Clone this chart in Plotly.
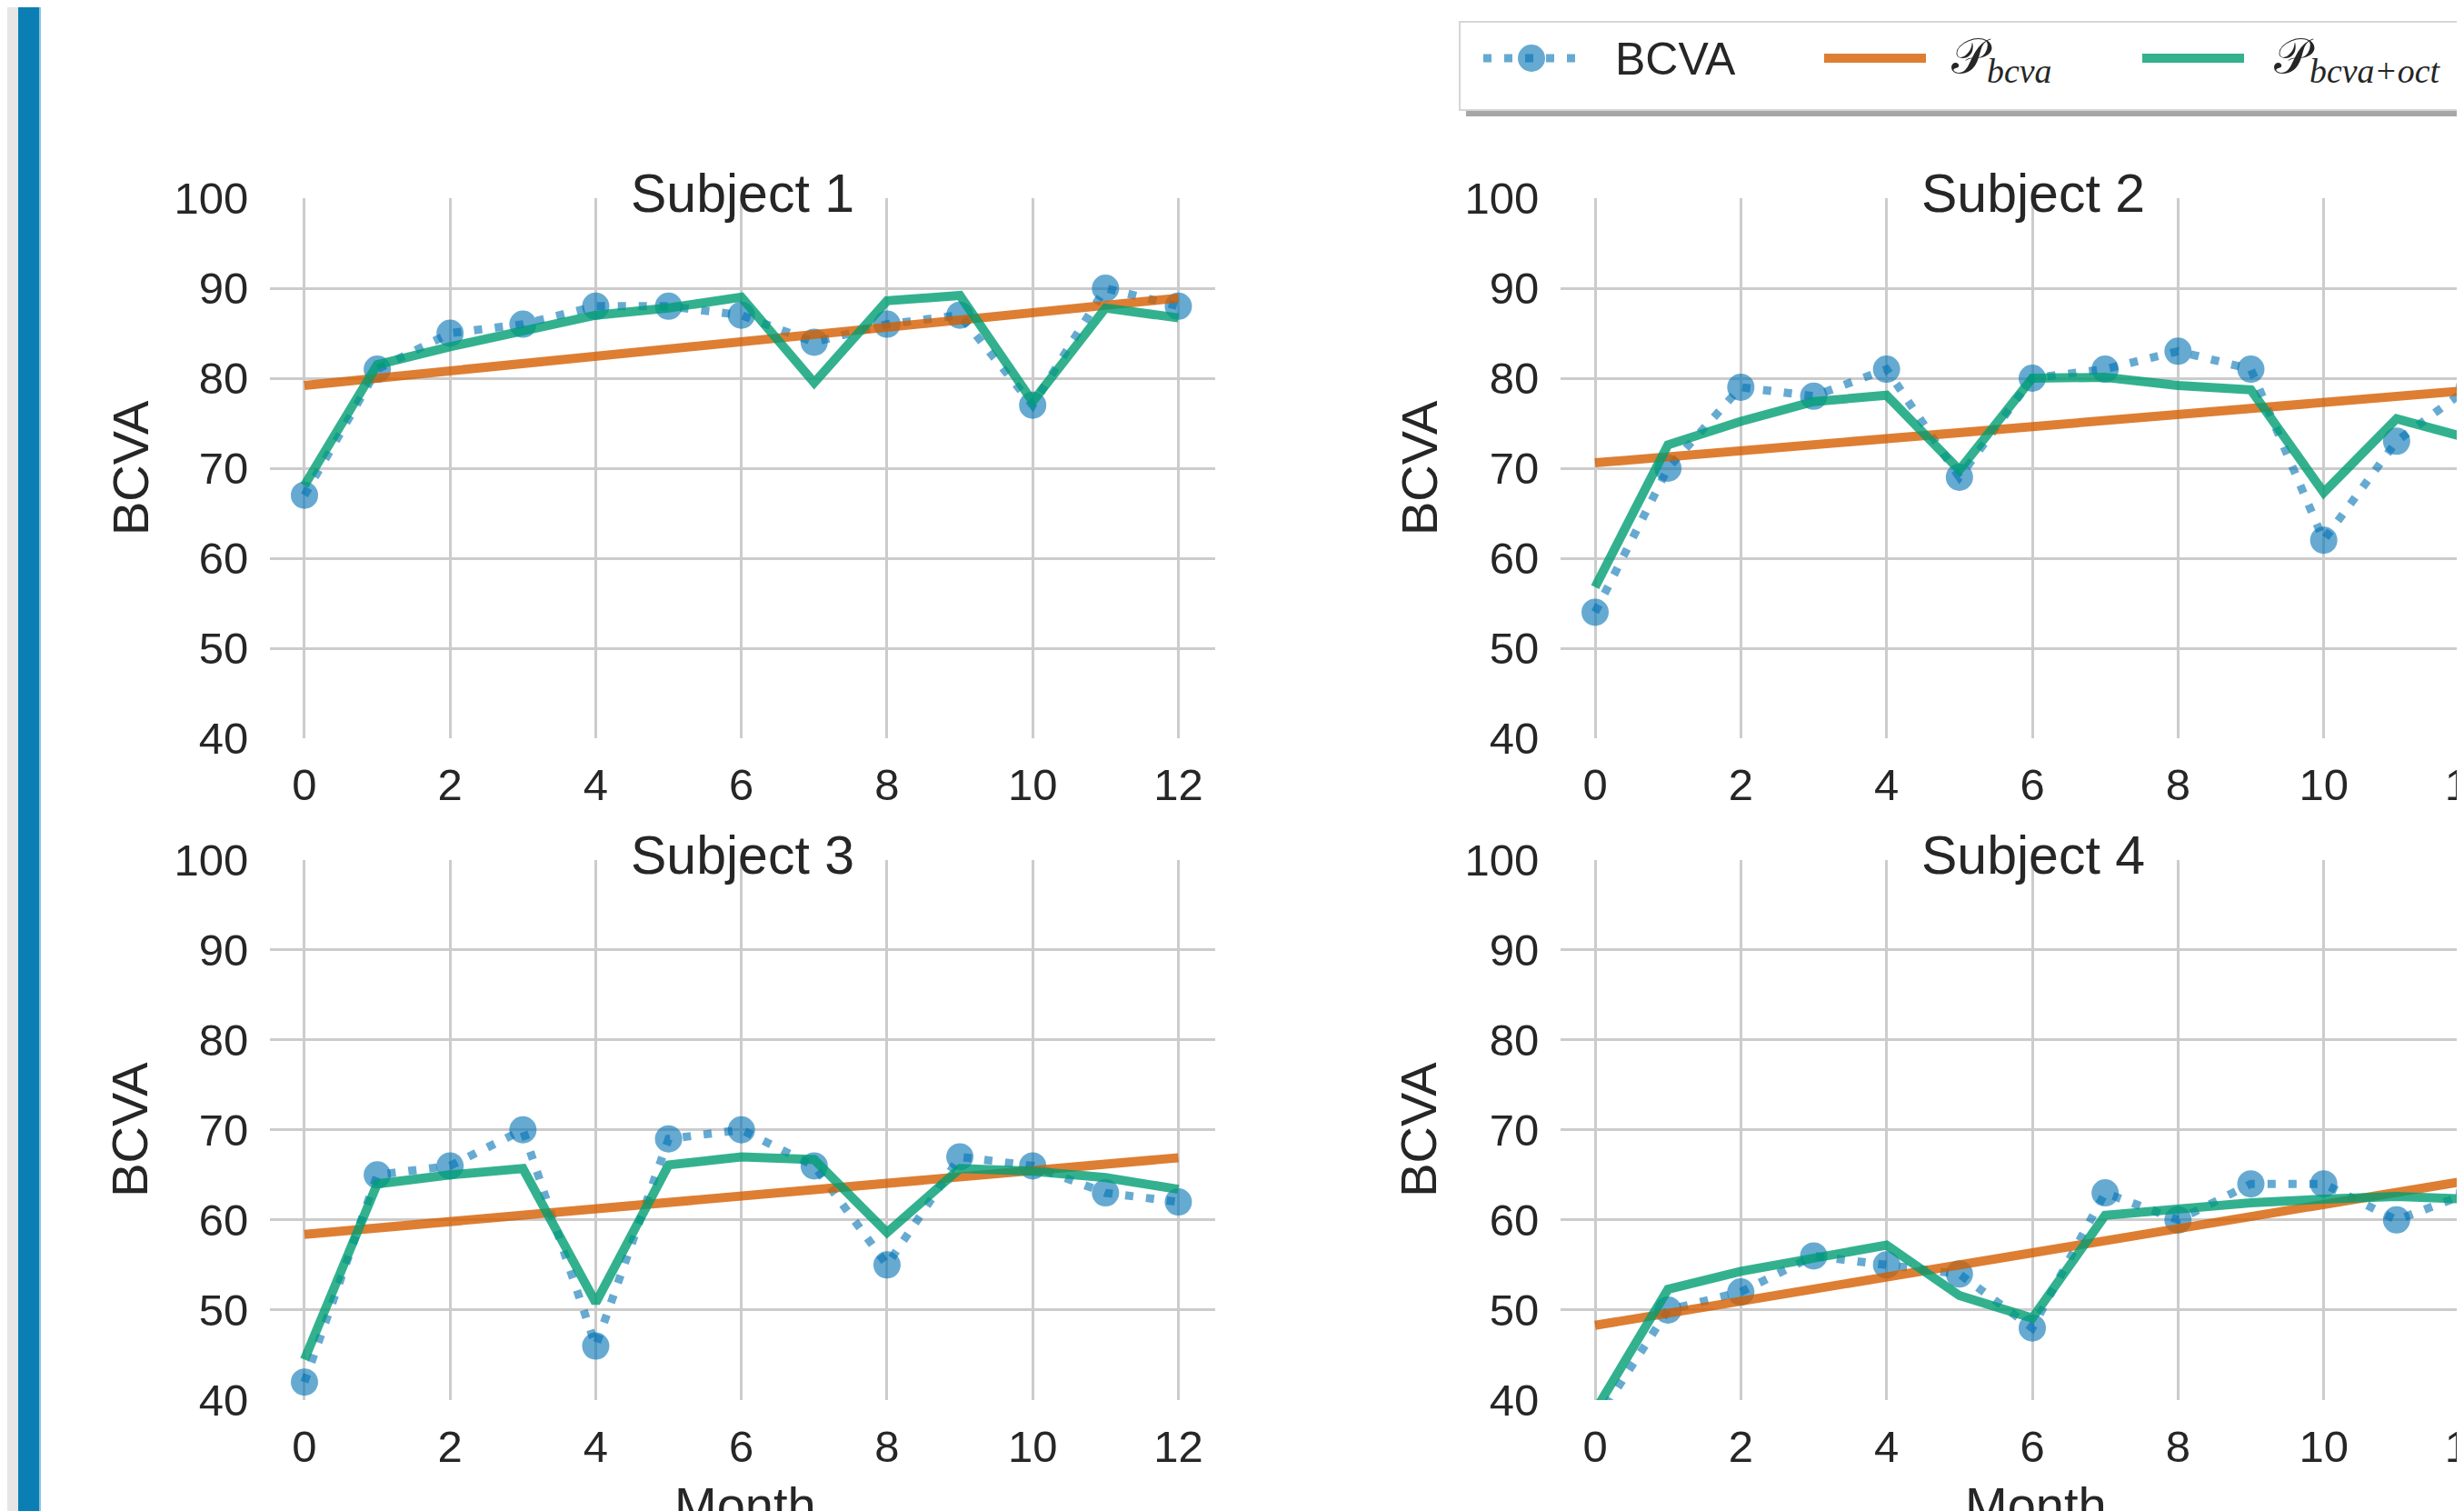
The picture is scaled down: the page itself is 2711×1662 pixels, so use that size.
import plotly.graph_objects as go

W, H = 2711, 1662
OX, OY = 8, 8  # page body margin compensation

months = list(range(13))
fit_months = [0, 12]

s1_bcva = [67, 81, 85, 86, 88, 88, 87, 84, 86, 87, 77, 90, 88]
s1_pbcva = [79.2, 88.9]
s1_poct = [68.1, 81.5, 83.5, 85.2, 87.0, 87.8, 89.0, 79.5, 88.6, 89.2, 77.4, 87.8, 86.7]

s2_bcva = [54, 70, 79, 78, 81, 69, 80, 81, 83, 81, 62, 73, 79]
s2_pbcva = [70.6, 78.65]
s2_poct = [56.8, 72.6, 75.2, 77.4, 78.1, 69.8, 80.0, 80.1, 79.2, 78.7, 67.3, 75.5, 73.3]

s3_bcva = [42, 65, 66, 70, 46, 69, 70, 66, 55, 67, 66, 63, 62]
s3_pbcva = [58.4, 66.9]
s3_poct = [44.5, 64.0, 65.0, 65.7, 50.8, 66.1, 67.0, 66.7, 58.6, 65.7, 65.4, 64.7, 63.4]

s4_bcva = [37.5, 50, 52, 56, 55, 54, 48, 63, 60, 64, 64, 60, 63]
s4_pbcva = [48.3, 64.4]
s4_poct = [38.8, 52.3, 54.3, 55.8, 57.2, 51.6, 49.1, 60.5, 61.2, 61.9, 62.3, 62.6, 62.3]

subjects = ["Subject 1", "Subject 2", "Subject 3", "Subject 4"]
bcva_all = [s1_bcva, s2_bcva, s3_bcva, s4_bcva]
pbcva_all = [s1_pbcva, s2_pbcva, s3_pbcva, s4_pbcva]
poct_all = [s1_poct, s2_poct, s3_poct, s4_poct]

x_ticks = [0, 2, 4, 6, 8, 10, 12]
y_ticks = [40, 50, 60, 70, 80, 90, 100]

BLUE = "rgba(0,114,178,0.6)"
ORANGE = "rgba(213,94,0,0.8)"
GREEN = "rgba(0,158,115,0.8)"
TXT = "#262626"
GRID = "#cccccc"
FONT = "Liberation Sans, Arial, sans-serif"


def px(x):
    return (x - OX) / W


def py(y):
    return 1 - (y - OY) / H


# panel geometry (page pixels)
col_left = [(297, 1336.5, [-0.474, 12.5]), (1717, 2719, [-0.474, 12.025])]
row_top = [(218, 812), (945.5, 1540)]

fig = go.Figure()

for i in range(4):
    ax = "" if i == 0 else str(i + 1)
    xa, ya = "x" + ax, "y" + ax
    fig.add_trace(go.Scatter(x=months, y=bcva_all[i], mode="lines+markers",
                             line=dict(color=BLUE, width=9, dash="9px,14px"),
                             marker=dict(color=BLUE, size=30, line=dict(width=0)),
                             xaxis=xa, yaxis=ya, showlegend=False))
    fig.add_trace(go.Scatter(x=fit_months, y=pbcva_all[i], mode="lines",
                             line=dict(color=ORANGE, width=10),
                             xaxis=xa, yaxis=ya, showlegend=False))
    fig.add_trace(go.Scatter(x=months, y=poct_all[i], mode="lines",
                             line=dict(color=GREEN, width=10),
                             xaxis=xa, yaxis=ya, showlegend=False))

layout = dict(width=W, height=H, autosize=False, template="none",
              margin=dict(l=0, r=0, t=0, b=0, pad=0, autoexpand=False),
              paper_bgcolor="white", plot_bgcolor="white",
              showlegend=False, font=dict(family=FONT, color=TXT))

annotations = []
shapes = []

for i in range(4):
    r, c = divmod(i, 2)
    ax = "" if i == 0 else str(i + 1)
    x0, x1, xr = col_left[c]
    y0, y1 = row_top[r]
    layout["xaxis" + ax] = dict(domain=[px(x0), min(px(x1), 1.0)], range=xr, anchor="y" + ax,
                                tickvals=x_ticks, showgrid=True, gridcolor=GRID, gridwidth=3,
                                zeroline=False, showline=False, ticks="outside", ticklen=8,
                                tickcolor="rgba(0,0,0,0)", automargin=False,
                                ticklabeloverflow="allow",
                                tickfont=dict(size=49, family=FONT, color=TXT))
    layout["yaxis" + ax] = dict(domain=[py(y1), py(y0)], range=[40, 100], anchor="x" + ax,
                                tickvals=y_ticks, showgrid=True, gridcolor=GRID, gridwidth=3,
                                zeroline=False, showline=False, ticks="outside", ticklen=13,
                                tickcolor="rgba(0,0,0,0)", automargin=False,
                                tickfont=dict(size=49, family=FONT, color=TXT))
    # title
    cx = [817, 2237][c]
    annotations.append(dict(text=subjects[i], xref="paper", yref="paper",
                            x=px(cx), y=py(y0 - 5), xanchor="center", yanchor="middle",
                            showarrow=False, font=dict(size=59, family=FONT, color=TXT)))
    # y label
    lx = [143, 1561][c]
    annotations.append(dict(text="BCVA", xref="paper", yref="paper", textangle=-90,
                            x=px(lx), y=py((y0 + y1) / 2), xanchor="center", yanchor="middle",
                            showarrow=False, font=dict(size=56, family=FONT, color=TXT)))
    if r == 1:
        annotations.append(dict(text="Month", xref="paper", yref="paper",
                                x=px(cx + 3), y=py(1655), xanchor="center", yanchor="middle",
                                showarrow=False, font=dict(size=56, family=FONT, color=TXT)))

# left decorative strip
shapes.append(dict(type="rect", xref="paper", yref="paper", x0=px(0), x1=px(20), y0=py(1700),
                   y1=py(0), fillcolor="#e6e6e6", line=dict(width=0), layer="above"))
shapes.append(dict(type="rect", xref="paper", yref="paper", x0=px(20), x1=px(43), y0=py(1700),
                   y1=py(0), fillcolor="#0b7fb4", line=dict(width=0), layer="above"))
shapes.append(dict(type="rect", xref="paper", yref="paper", x0=px(43), x1=px(45), y0=py(1700),
                   y1=py(0), fillcolor="#8cc4df", line=dict(width=0), layer="above"))

# legend box with shadow
shapes.append(dict(type="rect", xref="paper", yref="paper", x0=px(1613), x1=px(2790),
                   y0=py(128), y1=py(31), fillcolor="#a6a6a6", line=dict(width=0), layer="above"))
shapes.append(dict(type="rect", xref="paper", yref="paper", x0=px(1606), x1=px(2790),
                   y0=py(121), y1=py(24), fillcolor="white",
                   line=dict(width=2, color="#d6d6d6"), layer="above"))
ly = 64
shapes.append(dict(type="line", xref="paper", yref="paper", x0=px(1632), x1=px(1736),
                   y0=py(ly), y1=py(ly), line=dict(color=BLUE, width=9, dash="9px,14px"),
                   layer="above"))
shapes.append(dict(type="circle", xref="paper", yref="paper", x0=px(1670), x1=px(1700),
                   y0=py(ly + 15), y1=py(ly - 15), fillcolor=BLUE, line=dict(width=0),
                   layer="above"))
shapes.append(dict(type="line", xref="paper", yref="paper", x0=px(2007), x1=px(2119),
                   y0=py(ly), y1=py(ly), line=dict(color=ORANGE, width=10), layer="above"))
shapes.append(dict(type="line", xref="paper", yref="paper", x0=px(2357), x1=px(2469),
                   y0=py(ly), y1=py(ly), line=dict(color=GREEN, width=10), layer="above"))

SERIF = "Liberation Serif, DejaVu Serif, serif"
legend_texts = [("BCVA", 1775, FONT, 50),
                ("𝒫<sub><i>bcva</i></sub>", 2145, SERIF, 54),
                ("𝒫<sub><i>bcva+oct</i></sub>", 2500, SERIF, 54)]
for t, x, f, s in legend_texts:
    annotations.append(dict(text=t, xref="paper", yref="paper", x=px(x), y=py(65),
                            xanchor="left", yanchor="middle", showarrow=False,
                            font=dict(size=s, family=f, color=TXT)))

layout["annotations"] = annotations
layout["shapes"] = shapes
fig.update_layout(**layout)
fig.write_html("out.html")
